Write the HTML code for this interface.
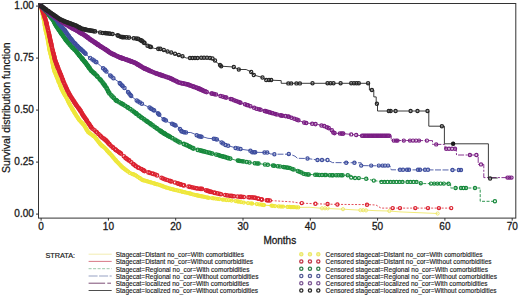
<!DOCTYPE html>
<html><head><meta charset="utf-8"><style>
html,body{margin:0;padding:0;background:#fff;width:520px;height:296px;overflow:hidden}
svg{display:block}
text{font-family:"Liberation Sans",sans-serif;fill:#1a1a1a}
.t{font-size:10px;stroke:#1a1a1a;stroke-width:0.3px}
.yl{font-size:10.5px;stroke:#1a1a1a;stroke-width:0.25px}
.st{font-size:7.3px;stroke:#1a1a1a;stroke-width:0.2px}
.lg{font-size:7.1px;stroke:#1a1a1a;stroke-width:0.14px}
.lgl{font-size:6.58px}
</style></head><body>
<svg width="520" height="296" viewBox="0 0 520 296">
<rect x="38.5" y="3.5" width="477.3" height="214.6" fill="none" stroke="#333" stroke-width="1"/>
<line x1="36" y1="6.1" x2="38.5" y2="6.1" stroke="#333" stroke-width="1"/>
<text x="33.8" y="9.4" text-anchor="end" class="t">1.00</text>
<line x1="36" y1="58.1" x2="38.5" y2="58.1" stroke="#333" stroke-width="1"/>
<text x="33.8" y="61.4" text-anchor="end" class="t">0.75</text>
<line x1="36" y1="110.1" x2="38.5" y2="110.1" stroke="#333" stroke-width="1"/>
<text x="33.8" y="113.4" text-anchor="end" class="t">0.50</text>
<line x1="36" y1="162.1" x2="38.5" y2="162.1" stroke="#333" stroke-width="1"/>
<text x="33.8" y="165.4" text-anchor="end" class="t">0.25</text>
<line x1="36" y1="214.1" x2="38.5" y2="214.1" stroke="#333" stroke-width="1"/>
<text x="33.8" y="217.4" text-anchor="end" class="t">0.00</text>
<line x1="41.10" y1="218" x2="41.10" y2="220.6" stroke="#333" stroke-width="1"/>
<text x="41.10" y="229.7" text-anchor="middle" class="t">0</text>
<line x1="108.40" y1="218" x2="108.40" y2="220.6" stroke="#333" stroke-width="1"/>
<text x="108.40" y="229.7" text-anchor="middle" class="t">10</text>
<line x1="175.70" y1="218" x2="175.70" y2="220.6" stroke="#333" stroke-width="1"/>
<text x="175.70" y="229.7" text-anchor="middle" class="t">20</text>
<line x1="243.00" y1="218" x2="243.00" y2="220.6" stroke="#333" stroke-width="1"/>
<text x="243.00" y="229.7" text-anchor="middle" class="t">30</text>
<line x1="310.30" y1="218" x2="310.30" y2="220.6" stroke="#333" stroke-width="1"/>
<text x="310.30" y="229.7" text-anchor="middle" class="t">40</text>
<line x1="377.60" y1="218" x2="377.60" y2="220.6" stroke="#333" stroke-width="1"/>
<text x="377.60" y="229.7" text-anchor="middle" class="t">50</text>
<line x1="444.90" y1="218" x2="444.90" y2="220.6" stroke="#333" stroke-width="1"/>
<text x="444.90" y="229.7" text-anchor="middle" class="t">60</text>
<line x1="512.20" y1="218" x2="512.20" y2="220.6" stroke="#333" stroke-width="1"/>
<text x="512.20" y="229.7" text-anchor="middle" class="t">70</text>
<text x="279.8" y="244.2" text-anchor="middle" class="t">Months</text>
<text transform="translate(10.1,107.7) rotate(-90)" text-anchor="middle" class="yl">Survival distribution function</text>
<polyline points="299.0,207.4 310.0,207.3 322.0,208.3 343.0,209.2 360.4,210.2 366.5,210.2 376.0,210.7 389.0,211.0 400.0,211.9 437.6,213.5" fill="none" stroke="#eee86a" stroke-width="0.9"/>
<g fill="none" stroke="#eee73c" stroke-width="1.3"><circle cx="41.0" cy="6.0" r="1.5"/><circle cx="41.2" cy="7.0" r="1.5"/><circle cx="41.5" cy="8.2" r="1.5"/><circle cx="41.8" cy="9.7" r="1.5"/><circle cx="41.9" cy="10.4" r="1.5"/><circle cx="42.2" cy="11.6" r="1.5"/><circle cx="42.4" cy="12.9" r="1.5"/><circle cx="42.7" cy="14.1" r="1.5"/><circle cx="42.8" cy="14.6" r="1.5"/><circle cx="42.9" cy="15.1" r="1.5"/><circle cx="43.1" cy="16.1" r="1.5"/><circle cx="43.3" cy="17.3" r="1.5"/><circle cx="43.5" cy="18.0" r="1.5"/><circle cx="43.7" cy="19.0" r="1.5"/><circle cx="43.8" cy="19.8" r="1.5"/><circle cx="44.1" cy="21.2" r="1.5"/><circle cx="44.3" cy="22.8" r="1.5"/><circle cx="44.5" cy="23.8" r="1.5"/><circle cx="44.7" cy="25.2" r="1.5"/><circle cx="44.8" cy="25.8" r="1.5"/><circle cx="45.0" cy="27.0" r="1.5"/><circle cx="45.3" cy="28.5" r="1.5"/><circle cx="45.4" cy="29.2" r="1.5"/><circle cx="45.6" cy="30.5" r="1.5"/><circle cx="45.9" cy="31.5" r="1.5"/><circle cx="46.3" cy="33.0" r="1.5"/><circle cx="46.5" cy="33.8" r="1.5"/><circle cx="46.7" cy="34.8" r="1.5"/><circle cx="47.1" cy="36.2" r="1.5"/><circle cx="47.4" cy="37.5" r="1.5"/><circle cx="47.5" cy="38.2" r="1.5"/><circle cx="47.6" cy="38.8" r="1.5"/><circle cx="47.8" cy="40.2" r="1.5"/><circle cx="48.0" cy="41.2" r="1.5"/><circle cx="48.3" cy="42.8" r="1.5"/><circle cx="48.4" cy="43.5" r="1.5"/><circle cx="48.6" cy="44.8" r="1.5"/><circle cx="48.8" cy="46.0" r="1.5"/><circle cx="49.1" cy="47.5" r="1.5"/><circle cx="49.2" cy="48.0" r="1.5"/><circle cx="49.3" cy="49.0" r="1.5"/><circle cx="49.4" cy="49.5" r="1.5"/><circle cx="49.7" cy="50.8" r="1.5"/><circle cx="49.9" cy="51.5" r="1.5"/><circle cx="50.2" cy="53.0" r="1.5"/><circle cx="50.4" cy="53.8" r="1.5"/><circle cx="50.8" cy="55.0" r="1.5"/><circle cx="51.1" cy="56.5" r="1.5"/><circle cx="51.3" cy="57.2" r="1.5"/><circle cx="51.6" cy="58.2" r="1.5"/><circle cx="51.9" cy="59.7" r="1.5"/><circle cx="52.1" cy="60.7" r="1.5"/><circle cx="52.2" cy="61.4" r="1.5"/><circle cx="52.4" cy="62.2" r="1.5"/><circle cx="52.6" cy="63.4" r="1.5"/><circle cx="52.8" cy="64.1" r="1.5"/><circle cx="53.0" cy="65.3" r="1.5"/><circle cx="53.2" cy="66.3" r="1.5"/><circle cx="53.4" cy="67.3" r="1.5"/><circle cx="53.5" cy="67.8" r="1.5"/><circle cx="53.8" cy="69.0" r="1.5"/><circle cx="54.2" cy="70.5" r="1.5"/><circle cx="54.5" cy="71.2" r="1.5"/><circle cx="54.7" cy="71.9" r="1.5"/><circle cx="55.3" cy="73.3" r="1.5"/><circle cx="55.7" cy="74.2" r="1.5"/><circle cx="56.0" cy="74.9" r="1.5"/><circle cx="56.1" cy="75.3" r="1.5"/><circle cx="56.6" cy="76.5" r="1.5"/><circle cx="56.9" cy="77.2" r="1.5"/><circle cx="57.3" cy="78.1" r="1.5"/><circle cx="57.5" cy="78.8" r="1.5"/><circle cx="58.0" cy="80.0" r="1.5"/><circle cx="58.5" cy="81.2" r="1.5"/><circle cx="58.7" cy="81.9" r="1.5"/><circle cx="58.9" cy="82.3" r="1.5"/><circle cx="59.5" cy="83.7" r="1.5"/><circle cx="60.0" cy="85.1" r="1.5"/><circle cx="60.2" cy="85.6" r="1.5"/><circle cx="60.6" cy="86.5" r="1.5"/><circle cx="61.1" cy="87.7" r="1.5"/><circle cx="61.4" cy="88.6" r="1.5"/><circle cx="61.9" cy="89.8" r="1.5"/><circle cx="62.6" cy="91.1" r="1.5"/><circle cx="63.1" cy="92.0" r="1.5"/><circle cx="63.6" cy="92.8" r="1.5"/><circle cx="64.0" cy="93.5" r="1.5"/><circle cx="64.4" cy="94.2" r="1.5"/><circle cx="64.8" cy="94.8" r="1.5"/><circle cx="65.0" cy="95.2" r="1.5"/><circle cx="65.4" cy="95.9" r="1.5"/><circle cx="66.1" cy="97.2" r="1.5"/><circle cx="66.6" cy="98.1" r="1.5"/><circle cx="67.1" cy="99.3" r="1.5"/><circle cx="67.8" cy="100.7" r="1.5"/><circle cx="68.4" cy="101.8" r="1.5"/><circle cx="68.6" cy="102.3" r="1.5"/><circle cx="69.3" cy="103.6" r="1.5"/><circle cx="69.5" cy="104.1" r="1.5"/><circle cx="70.1" cy="105.2" r="1.5"/><circle cx="70.9" cy="106.5" r="1.5"/><circle cx="71.5" cy="107.6" r="1.5"/><circle cx="72.1" cy="108.5" r="1.5"/><circle cx="72.3" cy="108.9" r="1.5"/><circle cx="72.6" cy="109.4" r="1.5"/><circle cx="73.2" cy="110.4" r="1.5"/><circle cx="73.6" cy="111.1" r="1.5"/><circle cx="74.1" cy="112.0" r="1.5"/><circle cx="74.5" cy="112.6" r="1.5"/><circle cx="74.9" cy="113.3" r="1.5"/><circle cx="75.3" cy="113.9" r="1.5"/><circle cx="76.0" cy="115.0" r="1.5"/><circle cx="76.5" cy="115.9" r="1.5"/><circle cx="77.1" cy="116.8" r="1.5"/><circle cx="77.7" cy="117.6" r="1.5"/><circle cx="78.2" cy="118.5" r="1.5"/><circle cx="78.8" cy="119.3" r="1.5"/><circle cx="79.4" cy="120.2" r="1.5"/><circle cx="80.4" cy="121.3" r="1.5"/><circle cx="81.3" cy="122.2" r="1.5"/><circle cx="81.9" cy="122.8" r="1.5"/><circle cx="82.4" cy="123.3" r="1.5"/><circle cx="82.9" cy="123.9" r="1.5"/><circle cx="83.5" cy="124.4" r="1.5"/><circle cx="83.8" cy="124.8" r="1.5"/><circle cx="84.5" cy="125.9" r="1.5"/><circle cx="85.0" cy="126.8" r="1.5"/><circle cx="85.5" cy="127.6" r="1.5"/><circle cx="86.2" cy="128.9" r="1.5"/><circle cx="86.6" cy="129.6" r="1.5"/><circle cx="87.1" cy="130.5" r="1.5"/><circle cx="87.9" cy="131.8" r="1.5"/><circle cx="88.6" cy="132.4" r="1.5"/><circle cx="89.6" cy="133.2" r="1.5"/><circle cx="90.3" cy="133.7" r="1.5"/><circle cx="91.5" cy="134.6" r="1.5"/><circle cx="92.5" cy="135.3" r="1.5"/><circle cx="93.1" cy="135.8" r="1.5"/><circle cx="93.8" cy="136.2" r="1.5"/><circle cx="94.6" cy="136.8" r="1.5"/><circle cx="95.3" cy="137.5" r="1.5"/><circle cx="95.9" cy="138.3" r="1.5"/><circle cx="96.3" cy="138.9" r="1.5"/><circle cx="97.0" cy="139.8" r="1.5"/><circle cx="97.7" cy="140.8" r="1.5"/><circle cx="98.5" cy="141.8" r="1.5"/><circle cx="99.1" cy="142.6" r="1.5"/><circle cx="99.8" cy="143.4" r="1.5"/><circle cx="100.4" cy="144.2" r="1.5"/><circle cx="101.1" cy="145.0" r="1.5"/><circle cx="101.9" cy="145.7" r="1.5"/><circle cx="102.3" cy="146.0" r="1.5"/><circle cx="102.9" cy="146.5" r="1.5"/><circle cx="104.2" cy="147.4" r="1.5"/><circle cx="105.2" cy="148.3" r="1.5"/><circle cx="105.8" cy="149.1" r="1.5"/><circle cx="106.7" cy="150.1" r="1.5"/><circle cx="107.2" cy="150.7" r="1.5"/><circle cx="107.7" cy="151.3" r="1.5"/><circle cx="108.4" cy="152.1" r="1.5"/><circle cx="109.3" cy="153.0" r="1.5"/><circle cx="109.6" cy="153.3" r="1.5"/><circle cx="110.3" cy="154.1" r="1.5"/><circle cx="111.4" cy="155.2" r="1.5"/><circle cx="112.2" cy="156.2" r="1.5"/><circle cx="113.2" cy="157.3" r="1.5"/><circle cx="113.5" cy="157.7" r="1.5"/><circle cx="114.5" cy="158.9" r="1.5"/><circle cx="115.4" cy="160.0" r="1.5"/><circle cx="115.8" cy="160.4" r="1.5"/><circle cx="116.4" cy="161.2" r="1.5"/><circle cx="117.3" cy="162.1" r="1.5"/><circle cx="117.8" cy="162.6" r="1.5"/><circle cx="118.7" cy="163.5" r="1.5"/><circle cx="119.7" cy="164.6" r="1.5"/><circle cx="120.6" cy="165.5" r="1.5"/><circle cx="121.5" cy="166.4" r="1.5"/><circle cx="122.0" cy="167.0" r="1.5"/><circle cx="123.1" cy="167.9" r="1.5"/><circle cx="123.9" cy="168.5" r="1.5"/><circle cx="125.1" cy="169.4" r="1.5"/><circle cx="125.9" cy="170.0" r="1.5"/><circle cx="127.0" cy="170.8" r="1.5"/><circle cx="128.2" cy="171.7" r="1.5"/><circle cx="129.8" cy="172.9" r="1.5"/><circle cx="131.9" cy="173.8" r="1.5"/><circle cx="133.0" cy="174.2" r="1.5"/><circle cx="133.7" cy="174.5" r="1.5"/><circle cx="135.3" cy="175.2" r="1.5"/><circle cx="136.4" cy="175.9" r="1.5"/><circle cx="137.8" cy="176.9" r="1.5"/><circle cx="139.5" cy="178.0" r="1.5"/><circle cx="140.2" cy="178.4" r="1.5"/><circle cx="141.6" cy="179.4" r="1.5"/><circle cx="142.5" cy="180.0" r="1.5"/><circle cx="143.7" cy="180.4" r="1.5"/><circle cx="144.9" cy="180.7" r="1.5"/><circle cx="146.4" cy="181.1" r="1.5"/><circle cx="147.4" cy="181.4" r="1.5"/><circle cx="148.8" cy="181.8" r="1.5"/><circle cx="149.8" cy="182.1" r="1.5"/><circle cx="150.5" cy="182.3" r="1.5"/><circle cx="151.5" cy="182.6" r="1.5"/><circle cx="153.3" cy="183.1" r="1.5"/><circle cx="154.3" cy="183.5" r="1.5"/><circle cx="155.3" cy="183.8" r="1.5"/><circle cx="156.5" cy="184.2" r="1.5"/><circle cx="157.5" cy="184.4" r="1.5"/><circle cx="159.5" cy="185.0" r="1.5"/><circle cx="161.2" cy="185.6" r="1.5"/><circle cx="162.1" cy="186.0" r="1.5"/><circle cx="163.0" cy="186.3" r="1.5"/><circle cx="164.2" cy="186.8" r="1.5"/><circle cx="165.6" cy="187.3" r="1.5"/><circle cx="166.8" cy="187.7" r="1.5"/><circle cx="168.2" cy="188.2" r="1.5"/><circle cx="170.0" cy="188.6" r="1.5"/><circle cx="170.8" cy="188.8" r="1.5"/><circle cx="172.2" cy="189.2" r="1.5"/><circle cx="173.2" cy="189.5" r="1.5"/><circle cx="174.8" cy="189.8" r="1.5"/><circle cx="175.8" cy="190.1" r="1.5"/><circle cx="177.5" cy="190.5" r="1.5"/><circle cx="179.5" cy="191.0" r="1.5"/><circle cx="181.5" cy="191.5" r="1.5"/><circle cx="182.8" cy="191.9" r="1.5"/><circle cx="184.2" cy="192.2" r="1.5"/><circle cx="185.2" cy="192.4" r="1.5"/><circle cx="187.0" cy="192.8" r="1.5"/><circle cx="188.8" cy="193.2" r="1.5"/><circle cx="190.0" cy="193.5" r="1.5"/><circle cx="191.0" cy="193.8" r="1.5"/><circle cx="192.8" cy="194.3" r="1.5"/><circle cx="194.5" cy="194.8" r="1.5"/><circle cx="196.2" cy="195.2" r="1.5"/><circle cx="197.2" cy="195.4" r="1.5"/><circle cx="198.2" cy="195.7" r="1.5"/><circle cx="199.2" cy="195.8" r="1.5"/><circle cx="200.2" cy="196.1" r="1.5"/><circle cx="201.0" cy="196.2" r="1.5"/><circle cx="201.8" cy="196.3" r="1.5"/><circle cx="203.2" cy="196.7" r="1.5"/><circle cx="204.5" cy="196.9" r="1.5"/><circle cx="206.5" cy="197.3" r="1.5"/><circle cx="207.8" cy="197.6" r="1.5"/><circle cx="208.8" cy="197.8" r="1.5"/></g>
<polyline points="202.5,196.5 210.0,198.0 217.5,198.8 225.0,199.9 232.5,200.6 243.8,202.5 253.8,203.8 263.8,205.0 280.0,206.5 299.0,207.4" fill="none" stroke="#eee73c" stroke-width="1.0"/>
<g fill="none" stroke="#eee73c" stroke-width="1.25"><circle cx="212.2" cy="198.2" r="1.5"/><circle cx="213.5" cy="198.3" r="1.5"/><circle cx="215.5" cy="198.6" r="1.5"/><circle cx="217.5" cy="198.8" r="1.5"/><circle cx="219.2" cy="199.0" r="1.5"/><circle cx="222.5" cy="199.5" r="1.5"/><circle cx="224.0" cy="199.7" r="1.5"/><circle cx="226.2" cy="200.0" r="1.5"/><circle cx="228.8" cy="200.2" r="1.5"/><circle cx="231.5" cy="200.5" r="1.5"/><circle cx="235.5" cy="201.1" r="1.5"/><circle cx="237.5" cy="201.4" r="1.5"/><circle cx="238.8" cy="201.7" r="1.5"/><circle cx="241.0" cy="202.0" r="1.5"/><circle cx="243.8" cy="202.5" r="1.5"/><circle cx="248.0" cy="203.0" r="1.5"/><circle cx="251.0" cy="203.4" r="1.5"/><circle cx="252.2" cy="203.6" r="1.5"/><circle cx="256.8" cy="204.1" r="1.5"/><circle cx="259.2" cy="204.4" r="1.5"/><circle cx="261.5" cy="204.7" r="1.5"/><circle cx="263.0" cy="204.9" r="1.5"/><circle cx="264.0" cy="205.0" r="1.5"/><circle cx="271.5" cy="205.7" r="1.5"/><circle cx="272.8" cy="205.8" r="1.5"/><circle cx="275.0" cy="206.0" r="1.5"/><circle cx="278.8" cy="206.4" r="1.5"/><circle cx="281.0" cy="206.5" r="1.5"/><circle cx="283.0" cy="206.6" r="1.5"/><circle cx="287.5" cy="206.9" r="1.5"/><circle cx="289.5" cy="206.9" r="1.5"/><circle cx="290.5" cy="207.0" r="1.5"/><circle cx="291.8" cy="207.1" r="1.5"/><circle cx="293.0" cy="207.1" r="1.5"/><circle cx="294.0" cy="207.2" r="1.5"/><circle cx="296.2" cy="207.3" r="1.5"/><circle cx="298.2" cy="207.4" r="1.5"/></g>
<g fill="none" stroke="#eee86a" stroke-width="1.0"><circle cx="322.0" cy="208.3" r="1.6"/><circle cx="325.0" cy="208.3" r="1.6"/><circle cx="327.7" cy="208.3" r="1.6"/><circle cx="343.0" cy="209.2" r="1.6"/><circle cx="360.4" cy="210.2" r="1.6"/><circle cx="363.2" cy="210.2" r="1.6"/><circle cx="366.0" cy="210.4" r="1.6"/><circle cx="389.4" cy="211.0" r="1.6"/><circle cx="437.6" cy="213.5" r="1.6"/></g>
<polyline points="271.2,200.6 292.5,201.9 298.8,203.0 315.6,203.8 337.5,204.4 367.0,204.6 376.0,205.0 381.0,208.1 451.2,208.1" fill="none" stroke="#dc2230" stroke-width="0.8" stroke-dasharray="2,1.5"/>
<g fill="none" stroke="#dc2230" stroke-width="1.25"><circle cx="41.0" cy="6.0" r="1.7"/><circle cx="41.2" cy="6.7" r="1.7"/><circle cx="41.6" cy="7.9" r="1.7"/><circle cx="42.0" cy="9.1" r="1.7"/><circle cx="42.5" cy="10.6" r="1.7"/><circle cx="42.8" cy="11.3" r="1.7"/><circle cx="43.0" cy="12.0" r="1.7"/><circle cx="43.2" cy="12.7" r="1.7"/><circle cx="43.5" cy="13.5" r="1.7"/><circle cx="43.9" cy="14.9" r="1.7"/><circle cx="44.2" cy="15.6" r="1.7"/><circle cx="44.6" cy="16.8" r="1.7"/><circle cx="44.8" cy="17.6" r="1.7"/><circle cx="45.0" cy="18.3" r="1.7"/><circle cx="45.4" cy="19.3" r="1.7"/><circle cx="45.8" cy="20.7" r="1.7"/><circle cx="46.1" cy="22.0" r="1.7"/><circle cx="46.2" cy="22.4" r="1.7"/><circle cx="46.4" cy="23.2" r="1.7"/><circle cx="46.6" cy="23.9" r="1.7"/><circle cx="46.9" cy="25.4" r="1.7"/><circle cx="47.3" cy="26.8" r="1.7"/><circle cx="47.7" cy="28.3" r="1.7"/><circle cx="48.0" cy="29.8" r="1.7"/><circle cx="48.4" cy="31.2" r="1.7"/><circle cx="48.8" cy="33.0" r="1.7"/><circle cx="49.1" cy="34.4" r="1.7"/><circle cx="49.3" cy="35.2" r="1.7"/><circle cx="49.6" cy="36.7" r="1.7"/><circle cx="49.8" cy="37.6" r="1.7"/><circle cx="50.1" cy="39.1" r="1.7"/><circle cx="50.4" cy="40.4" r="1.7"/><circle cx="50.6" cy="41.4" r="1.7"/><circle cx="50.8" cy="42.3" r="1.7"/><circle cx="51.1" cy="43.3" r="1.7"/><circle cx="51.3" cy="44.3" r="1.7"/><circle cx="51.4" cy="45.1" r="1.7"/><circle cx="51.8" cy="46.5" r="1.7"/><circle cx="52.1" cy="48.0" r="1.7"/><circle cx="52.5" cy="49.7" r="1.7"/><circle cx="52.8" cy="50.9" r="1.7"/><circle cx="53.1" cy="52.2" r="1.7"/><circle cx="53.5" cy="53.6" r="1.7"/><circle cx="53.7" cy="54.4" r="1.7"/><circle cx="54.0" cy="55.6" r="1.7"/><circle cx="54.2" cy="56.6" r="1.7"/><circle cx="54.4" cy="57.3" r="1.7"/><circle cx="54.5" cy="58.0" r="1.7"/><circle cx="54.8" cy="59.3" r="1.7"/><circle cx="55.0" cy="60.0" r="1.7"/><circle cx="55.4" cy="60.9" r="1.7"/><circle cx="55.8" cy="62.1" r="1.7"/><circle cx="56.1" cy="63.0" r="1.7"/><circle cx="56.4" cy="63.8" r="1.7"/><circle cx="56.8" cy="64.7" r="1.7"/><circle cx="57.0" cy="65.4" r="1.7"/><circle cx="57.3" cy="66.1" r="1.7"/><circle cx="57.5" cy="66.8" r="1.7"/><circle cx="57.9" cy="67.7" r="1.7"/><circle cx="58.1" cy="68.2" r="1.7"/><circle cx="58.6" cy="69.4" r="1.7"/><circle cx="59.3" cy="71.0" r="1.7"/><circle cx="59.6" cy="72.0" r="1.7"/><circle cx="60.1" cy="73.1" r="1.7"/><circle cx="60.7" cy="74.5" r="1.7"/><circle cx="60.9" cy="75.0" r="1.7"/><circle cx="61.2" cy="75.7" r="1.7"/><circle cx="61.7" cy="77.1" r="1.7"/><circle cx="62.3" cy="78.5" r="1.7"/><circle cx="62.7" cy="79.7" r="1.7"/><circle cx="63.0" cy="80.4" r="1.7"/><circle cx="63.3" cy="81.3" r="1.7"/><circle cx="63.9" cy="82.7" r="1.7"/><circle cx="64.5" cy="84.1" r="1.7"/><circle cx="65.2" cy="85.5" r="1.7"/><circle cx="65.5" cy="86.2" r="1.7"/><circle cx="66.1" cy="87.7" r="1.7"/><circle cx="66.6" cy="88.6" r="1.7"/><circle cx="67.1" cy="89.8" r="1.7"/><circle cx="67.4" cy="90.5" r="1.7"/><circle cx="68.3" cy="92.0" r="1.7"/><circle cx="68.9" cy="93.2" r="1.7"/><circle cx="69.4" cy="94.3" r="1.7"/><circle cx="69.8" cy="95.0" r="1.7"/><circle cx="70.5" cy="96.1" r="1.7"/><circle cx="71.2" cy="97.2" r="1.7"/><circle cx="71.9" cy="98.3" r="1.7"/><circle cx="72.4" cy="99.1" r="1.7"/><circle cx="73.1" cy="100.2" r="1.7"/><circle cx="73.7" cy="101.1" r="1.7"/><circle cx="74.1" cy="101.7" r="1.7"/><circle cx="74.5" cy="102.4" r="1.7"/><circle cx="75.2" cy="103.5" r="1.7"/><circle cx="75.6" cy="104.1" r="1.7"/><circle cx="76.1" cy="104.8" r="1.7"/><circle cx="76.4" cy="105.2" r="1.7"/><circle cx="77.1" cy="106.2" r="1.7"/><circle cx="77.9" cy="107.2" r="1.7"/><circle cx="78.6" cy="108.2" r="1.7"/><circle cx="78.9" cy="108.6" r="1.7"/><circle cx="79.5" cy="109.4" r="1.7"/><circle cx="80.1" cy="110.2" r="1.7"/><circle cx="80.4" cy="110.7" r="1.7"/><circle cx="80.6" cy="111.1" r="1.7"/><circle cx="81.6" cy="112.7" r="1.7"/><circle cx="81.9" cy="113.3" r="1.7"/><circle cx="82.3" cy="114.0" r="1.7"/><circle cx="82.7" cy="114.7" r="1.7"/><circle cx="83.4" cy="115.8" r="1.7"/><circle cx="83.7" cy="116.2" r="1.7"/><circle cx="84.3" cy="117.1" r="1.7"/><circle cx="84.9" cy="117.9" r="1.7"/><circle cx="85.8" cy="119.2" r="1.7"/><circle cx="86.1" cy="119.6" r="1.7"/><circle cx="86.7" cy="120.4" r="1.7"/><circle cx="87.2" cy="121.3" r="1.7"/><circle cx="88.2" cy="122.7" r="1.7"/><circle cx="88.9" cy="123.8" r="1.7"/><circle cx="89.5" cy="124.6" r="1.7"/><circle cx="90.2" cy="125.7" r="1.7"/><circle cx="90.9" cy="126.7" r="1.7"/><circle cx="91.3" cy="127.4" r="1.7"/><circle cx="92.5" cy="128.7" r="1.7"/><circle cx="94.5" cy="130.3" r="1.7"/><circle cx="96.1" cy="131.7" r="1.7"/><circle cx="97.0" cy="132.5" r="1.7"/><circle cx="98.5" cy="134.0" r="1.7"/><circle cx="100.1" cy="135.6" r="1.7"/><circle cx="101.1" cy="136.6" r="1.7"/><circle cx="102.4" cy="137.7" r="1.7"/><circle cx="103.7" cy="138.6" r="1.7"/><circle cx="104.7" cy="139.4" r="1.7"/><circle cx="105.8" cy="140.2" r="1.7"/><circle cx="106.5" cy="140.9" r="1.7"/><circle cx="107.5" cy="142.1" r="1.7"/><circle cx="108.0" cy="142.7" r="1.7"/><circle cx="109.0" cy="143.8" r="1.7"/><circle cx="109.7" cy="144.6" r="1.7"/><circle cx="111.4" cy="146.2" r="1.7"/><circle cx="112.8" cy="147.3" r="1.7"/><circle cx="113.3" cy="147.8" r="1.7"/><circle cx="115.1" cy="149.3" r="1.7"/><circle cx="115.9" cy="149.9" r="1.7"/><circle cx="117.3" cy="151.0" r="1.7"/><circle cx="118.8" cy="152.1" r="1.7"/><circle cx="119.9" cy="152.8" r="1.7"/><circle cx="121.0" cy="153.6" r="1.7"/><circle cx="123.8" cy="156.2" r="1.7"/><circle cx="125.4" cy="157.8" r="1.7"/><circle cx="126.4" cy="158.6" r="1.7"/><circle cx="127.4" cy="159.3" r="1.7"/><circle cx="128.7" cy="160.2" r="1.7"/><circle cx="129.3" cy="160.6" r="1.7"/><circle cx="131.3" cy="162.2" r="1.7"/><circle cx="133.2" cy="164.0" r="1.7"/><circle cx="133.8" cy="164.5" r="1.7"/><circle cx="135.2" cy="165.6" r="1.7"/><circle cx="136.0" cy="166.2" r="1.7"/><circle cx="137.9" cy="167.4" r="1.7"/><circle cx="139.1" cy="168.0" r="1.7"/><circle cx="141.4" cy="169.1" r="1.7"/><circle cx="143.0" cy="170.1" r="1.7"/><circle cx="143.9" cy="170.6" r="1.7"/><circle cx="144.5" cy="171.1" r="1.7"/><circle cx="148.4" cy="172.4" r="1.7"/><circle cx="149.8" cy="172.8" r="1.7"/><circle cx="152.0" cy="173.5" r="1.7"/><circle cx="153.3" cy="173.9" r="1.7"/><circle cx="155.3" cy="174.5" r="1.7"/><circle cx="157.1" cy="175.4" r="1.7"/><circle cx="161.5" cy="177.7" r="1.7"/><circle cx="163.1" cy="178.6" r="1.7"/><circle cx="165.0" cy="179.3" r="1.7"/><circle cx="167.1" cy="180.0" r="1.7"/><circle cx="169.5" cy="180.8" r="1.7"/><circle cx="170.5" cy="181.1" r="1.7"/><circle cx="171.5" cy="181.5" r="1.7"/><circle cx="175.0" cy="182.5" r="1.7"/><circle cx="177.4" cy="183.3" r="1.7"/><circle cx="178.6" cy="183.7" r="1.7"/><circle cx="179.6" cy="184.0" r="1.7"/><circle cx="180.3" cy="184.3" r="1.7"/><circle cx="181.0" cy="184.5" r="1.7"/><circle cx="183.0" cy="185.1" r="1.7"/><circle cx="184.0" cy="185.4" r="1.7"/><circle cx="188.5" cy="186.5" r="1.7"/><circle cx="190.0" cy="186.9" r="1.7"/><circle cx="192.0" cy="187.3" r="1.7"/><circle cx="194.2" cy="187.8" r="1.7"/><circle cx="196.2" cy="188.2" r="1.7"/><circle cx="197.5" cy="188.5" r="1.7"/><circle cx="199.8" cy="188.7" r="1.7"/><circle cx="200.8" cy="188.8" r="1.7"/><circle cx="202.0" cy="188.9" r="1.7"/><circle cx="205.9" cy="190.2" r="1.7"/><circle cx="207.3" cy="190.7" r="1.7"/><circle cx="208.1" cy="190.9" r="1.7"/><circle cx="208.8" cy="191.2" r="1.7"/><circle cx="210.0" cy="191.6" r="1.7"/><circle cx="211.2" cy="191.9" r="1.7"/><circle cx="213.8" cy="192.6" r="1.7"/><circle cx="215.0" cy="192.9" r="1.7"/><circle cx="217.2" cy="193.4" r="1.7"/><circle cx="219.5" cy="193.9" r="1.7"/><circle cx="221.0" cy="194.2" r="1.7"/><circle cx="225.2" cy="195.0" r="1.7"/><circle cx="227.0" cy="195.3" r="1.7"/><circle cx="229.5" cy="195.7" r="1.7"/><circle cx="231.2" cy="195.9" r="1.7"/><circle cx="232.5" cy="196.1" r="1.7"/><circle cx="234.0" cy="196.2" r="1.7"/><circle cx="237.5" cy="196.5" r="1.7"/><circle cx="239.8" cy="196.7" r="1.7"/><circle cx="240.8" cy="196.8" r="1.7"/><circle cx="241.8" cy="196.8" r="1.7"/><circle cx="243.8" cy="197.0" r="1.7"/><circle cx="248.5" cy="197.2" r="1.7"/><circle cx="249.8" cy="197.3" r="1.7"/><circle cx="252.0" cy="197.4" r="1.7"/><circle cx="254.0" cy="197.6" r="1.7"/><circle cx="255.5" cy="197.9" r="1.7"/><circle cx="257.9" cy="198.5" r="1.7"/><circle cx="258.6" cy="198.7" r="1.7"/><circle cx="261.1" cy="199.3" r="1.7"/><circle cx="262.0" cy="199.6" r="1.7"/><circle cx="266.8" cy="200.2" r="1.7"/><circle cx="268.0" cy="200.3" r="1.7"/><circle cx="269.8" cy="200.5" r="1.7"/></g>
<g fill="none" stroke="#dc2230" stroke-width="1.2"><circle cx="301.8" cy="203.1" r="1.6"/><circle cx="315.4" cy="203.8" r="1.6"/><circle cx="327.6" cy="204.0" r="1.6"/><circle cx="337.4" cy="204.5" r="1.6"/><circle cx="367.0" cy="204.7" r="1.6"/><circle cx="392.7" cy="208.1" r="1.6"/><circle cx="400.0" cy="208.1" r="1.6"/><circle cx="415.3" cy="208.1" r="1.6"/><circle cx="428.0" cy="208.1" r="1.6"/><circle cx="438.9" cy="208.1" r="1.6"/><circle cx="451.2" cy="208.1" r="1.6"/></g>
<polyline points="41.0,6.0 47.0,12.0 53.0,20.0 57.0,27.0 61.0,33.0 66.0,40.0 71.0,46.0 76.0,51.0 78.8,54.5 81.0,57.3 85.5,62.8 91.5,71.0 95.0,74.0 101.0,80.5 106.2,87.5 109.0,93.0 116.2,100.5 125.2,105.8 133.5,111.4 140.0,116.5 150.0,123.5 162.5,132.5 177.5,141.2 180.0,142.5 187.5,145.5 195.0,149.2 202.5,151.1 211.5,153.4 219.0,155.2 220.0,155.7 235.0,160.0 248.8,162.5 260.0,163.8 270.0,165.0 277.5,166.2 290.0,168.1 297.5,170.8 305.0,174.3 312.5,174.6 327.5,175.2 350.0,175.2" fill="none" stroke="#17893c" stroke-width="0.9"/>
<polyline points="350.0,175.2 351.2,175.2 351.2,177.5 358.8,178.1 366.2,178.8 373.8,180.6 385.0,181.9 418.0,181.9 420.0,183.6 450.6,183.6 450.6,188.0 480.2,188.0 480.2,201.3 494.9,201.3" fill="none" stroke="#17893c" stroke-width="0.9" stroke-dasharray="3,1.5"/>
<g fill="none" stroke="#17893c" stroke-width="1.3"><circle cx="41.0" cy="6.0" r="1.75"/><circle cx="41.7" cy="6.7" r="1.75"/><circle cx="42.5" cy="7.5" r="1.75"/><circle cx="43.5" cy="8.5" r="1.75"/><circle cx="44.3" cy="9.3" r="1.75"/><circle cx="45.0" cy="10.0" r="1.75"/><circle cx="45.7" cy="10.7" r="1.75"/><circle cx="46.3" cy="11.3" r="1.75"/><circle cx="47.0" cy="12.0" r="1.75"/><circle cx="47.8" cy="13.0" r="1.75"/><circle cx="48.5" cy="14.0" r="1.75"/><circle cx="48.8" cy="14.4" r="1.75"/><circle cx="49.2" cy="15.0" r="1.75"/><circle cx="49.5" cy="15.4" r="1.75"/><circle cx="50.3" cy="16.4" r="1.75"/><circle cx="51.0" cy="17.4" r="1.75"/><circle cx="51.4" cy="17.8" r="1.75"/><circle cx="52.2" cy="19.0" r="1.75"/><circle cx="53.1" cy="20.2" r="1.75"/><circle cx="53.8" cy="21.3" r="1.75"/><circle cx="54.4" cy="22.4" r="1.75"/><circle cx="54.8" cy="23.1" r="1.75"/><circle cx="55.0" cy="23.5" r="1.75"/><circle cx="55.5" cy="24.4" r="1.75"/><circle cx="55.8" cy="24.8" r="1.75"/><circle cx="56.1" cy="25.5" r="1.75"/><circle cx="56.5" cy="26.1" r="1.75"/><circle cx="56.8" cy="26.6" r="1.75"/><circle cx="57.3" cy="27.4" r="1.75"/><circle cx="57.9" cy="28.3" r="1.75"/><circle cx="58.6" cy="29.4" r="1.75"/><circle cx="59.1" cy="30.2" r="1.75"/><circle cx="59.9" cy="31.3" r="1.75"/><circle cx="60.4" cy="32.1" r="1.75"/><circle cx="61.1" cy="33.2" r="1.75"/><circle cx="61.7" cy="34.0" r="1.75"/><circle cx="62.2" cy="34.6" r="1.75"/><circle cx="63.1" cy="35.9" r="1.75"/><circle cx="63.9" cy="37.1" r="1.75"/><circle cx="64.8" cy="38.4" r="1.75"/><circle cx="65.6" cy="39.4" r="1.75"/><circle cx="66.0" cy="40.0" r="1.75"/><circle cx="66.5" cy="40.6" r="1.75"/><circle cx="67.0" cy="41.2" r="1.75"/><circle cx="67.3" cy="41.5" r="1.75"/><circle cx="68.1" cy="42.5" r="1.75"/><circle cx="68.7" cy="43.3" r="1.75"/><circle cx="69.7" cy="44.5" r="1.75"/><circle cx="70.4" cy="45.2" r="1.75"/><circle cx="71.4" cy="46.4" r="1.75"/><circle cx="72.4" cy="47.4" r="1.75"/><circle cx="72.8" cy="47.8" r="1.75"/><circle cx="73.3" cy="48.3" r="1.75"/><circle cx="74.4" cy="49.4" r="1.75"/><circle cx="75.1" cy="50.1" r="1.75"/><circle cx="76.2" cy="51.2" r="1.75"/><circle cx="76.8" cy="52.0" r="1.75"/><circle cx="77.1" cy="52.4" r="1.75"/><circle cx="77.8" cy="53.3" r="1.75"/><circle cx="78.6" cy="54.3" r="1.75"/><circle cx="79.1" cy="54.9" r="1.75"/><circle cx="79.4" cy="55.3" r="1.75"/><circle cx="79.9" cy="55.9" r="1.75"/><circle cx="80.8" cy="57.1" r="1.75"/><circle cx="81.6" cy="58.1" r="1.75"/><circle cx="82.0" cy="58.5" r="1.75"/><circle cx="82.4" cy="59.1" r="1.75"/><circle cx="82.8" cy="59.4" r="1.75"/><circle cx="83.1" cy="59.8" r="1.75"/><circle cx="83.9" cy="60.8" r="1.75"/><circle cx="84.4" cy="61.4" r="1.75"/><circle cx="85.0" cy="62.2" r="1.75"/><circle cx="85.7" cy="63.0" r="1.75"/><circle cx="86.1" cy="63.6" r="1.75"/><circle cx="86.8" cy="64.6" r="1.75"/><circle cx="87.2" cy="65.0" r="1.75"/><circle cx="87.9" cy="66.0" r="1.75"/><circle cx="88.2" cy="66.5" r="1.75"/><circle cx="88.8" cy="67.3" r="1.75"/><circle cx="89.2" cy="67.9" r="1.75"/><circle cx="89.7" cy="68.5" r="1.75"/><circle cx="90.6" cy="69.8" r="1.75"/><circle cx="91.3" cy="70.8" r="1.75"/><circle cx="91.9" cy="71.3" r="1.75"/><circle cx="93.1" cy="72.3" r="1.75"/><circle cx="93.6" cy="72.8" r="1.75"/><circle cx="94.4" cy="73.5" r="1.75"/><circle cx="95.5" cy="74.6" r="1.75"/><circle cx="96.9" cy="76.0" r="1.75"/><circle cx="97.6" cy="76.8" r="1.75"/><circle cx="99.5" cy="78.8" r="1.75"/><circle cx="100.3" cy="79.8" r="1.75"/><circle cx="101.2" cy="80.7" r="1.75"/><circle cx="102.5" cy="82.5" r="1.75"/><circle cx="103.4" cy="83.7" r="1.75"/><circle cx="104.2" cy="84.7" r="1.75"/><circle cx="104.8" cy="85.5" r="1.75"/><circle cx="105.3" cy="86.3" r="1.75"/><circle cx="106.5" cy="88.0" r="1.75"/><circle cx="107.1" cy="89.1" r="1.75"/><circle cx="108.0" cy="90.9" r="1.75"/><circle cx="108.7" cy="92.3" r="1.75"/><circle cx="109.5" cy="93.5" r="1.75"/><circle cx="111.3" cy="95.4" r="1.75"/><circle cx="112.5" cy="96.7" r="1.75"/><circle cx="113.8" cy="97.9" r="1.75"/><circle cx="115.5" cy="99.8" r="1.75"/><circle cx="116.2" cy="100.5" r="1.75"/><circle cx="117.1" cy="101.0" r="1.75"/><circle cx="119.3" cy="102.3" r="1.75"/><circle cx="121.3" cy="103.4" r="1.75"/><circle cx="122.4" cy="104.1" r="1.75"/><circle cx="123.3" cy="104.6" r="1.75"/><circle cx="125.2" cy="105.8" r="1.75"/><circle cx="127.4" cy="107.2" r="1.75"/><circle cx="128.2" cy="107.8" r="1.75"/><circle cx="130.3" cy="109.2" r="1.75"/><circle cx="132.4" cy="110.7" r="1.75"/><circle cx="134.1" cy="111.9" r="1.75"/><circle cx="135.3" cy="112.8" r="1.75"/><circle cx="136.1" cy="113.4" r="1.75"/><circle cx="136.7" cy="113.9" r="1.75"/><circle cx="138.6" cy="115.4" r="1.75"/><circle cx="139.6" cy="116.2" r="1.75"/><circle cx="141.2" cy="117.4" r="1.75"/><circle cx="142.3" cy="118.1" r="1.75"/><circle cx="144.2" cy="119.4" r="1.75"/><circle cx="145.8" cy="120.6" r="1.75"/><circle cx="146.9" cy="121.3" r="1.75"/><circle cx="147.7" cy="121.9" r="1.75"/><circle cx="149.4" cy="123.1" r="1.75"/><circle cx="150.2" cy="123.6" r="1.75"/><circle cx="151.2" cy="124.4" r="1.75"/><circle cx="152.7" cy="125.4" r="1.75"/><circle cx="154.7" cy="126.9" r="1.75"/><circle cx="156.4" cy="128.1" r="1.75"/><circle cx="157.4" cy="128.8" r="1.75"/><circle cx="159.4" cy="130.3" r="1.75"/><circle cx="160.5" cy="131.0" r="1.75"/><circle cx="161.1" cy="131.5" r="1.75"/><circle cx="162.1" cy="132.2" r="1.75"/><circle cx="163.4" cy="133.0" r="1.75"/><circle cx="164.2" cy="133.5" r="1.75"/><circle cx="165.1" cy="134.0" r="1.75"/><circle cx="166.4" cy="134.8" r="1.75"/><circle cx="167.9" cy="135.7" r="1.75"/><circle cx="168.8" cy="136.2" r="1.75"/><circle cx="170.1" cy="136.9" r="1.75"/><circle cx="172.3" cy="138.2" r="1.75"/><circle cx="174.7" cy="139.6" r="1.75"/><circle cx="176.4" cy="140.6" r="1.75"/><circle cx="178.2" cy="141.6" r="1.75"/><circle cx="179.8" cy="142.4" r="1.75"/><circle cx="183.8" cy="144.0" r="1.75"/><circle cx="186.1" cy="144.9" r="1.75"/><circle cx="186.8" cy="145.2" r="1.75"/><circle cx="188.6" cy="146.1" r="1.75"/><circle cx="190.2" cy="146.9" r="1.75"/><circle cx="192.3" cy="147.9" r="1.75"/><circle cx="193.4" cy="148.5" r="1.75"/><circle cx="197.8" cy="149.9" r="1.75"/><circle cx="200.2" cy="150.5" r="1.75"/><circle cx="202.2" cy="151.0" r="1.75"/><circle cx="204.2" cy="151.5" r="1.75"/><circle cx="206.4" cy="152.1" r="1.75"/><circle cx="208.8" cy="152.7" r="1.75"/><circle cx="210.3" cy="153.1" r="1.75"/><circle cx="212.2" cy="153.6" r="1.75"/><circle cx="216.2" cy="154.6" r="1.75"/><circle cx="218.5" cy="155.1" r="1.75"/><circle cx="220.2" cy="155.8" r="1.75"/><circle cx="222.2" cy="156.3" r="1.75"/><circle cx="223.6" cy="156.7" r="1.75"/><circle cx="225.3" cy="157.2" r="1.75"/><circle cx="227.3" cy="157.8" r="1.75"/><circle cx="228.2" cy="158.1" r="1.75"/><circle cx="230.2" cy="158.6" r="1.75"/></g>
<g fill="none" stroke="#17893c" stroke-width="1.2"><circle cx="237.8" cy="160.5" r="1.65"/><circle cx="239.0" cy="160.7" r="1.65"/><circle cx="240.0" cy="160.9" r="1.65"/><circle cx="242.0" cy="161.3" r="1.65"/><circle cx="243.8" cy="161.6" r="1.65"/><circle cx="246.8" cy="162.1" r="1.65"/><circle cx="249.5" cy="162.6" r="1.65"/><circle cx="254.8" cy="163.2" r="1.65"/><circle cx="257.0" cy="163.4" r="1.65"/><circle cx="258.5" cy="163.6" r="1.65"/><circle cx="265.0" cy="164.4" r="1.65"/><circle cx="267.8" cy="164.7" r="1.65"/><circle cx="273.0" cy="165.5" r="1.65"/><circle cx="274.2" cy="165.7" r="1.65"/><circle cx="277.8" cy="166.3" r="1.65"/><circle cx="280.0" cy="166.6" r="1.65"/><circle cx="283.5" cy="167.1" r="1.65"/><circle cx="284.8" cy="167.3" r="1.65"/><circle cx="286.8" cy="167.6" r="1.65"/><circle cx="288.0" cy="167.8" r="1.65"/><circle cx="289.8" cy="168.1" r="1.65"/><circle cx="292.2" cy="168.9" r="1.65"/><circle cx="293.6" cy="169.4" r="1.65"/><circle cx="297.7" cy="170.9" r="1.65"/><circle cx="299.5" cy="171.7" r="1.65"/><circle cx="301.4" cy="172.6" r="1.65"/><circle cx="303.6" cy="173.7" r="1.65"/><circle cx="305.8" cy="174.3" r="1.65"/><circle cx="307.8" cy="174.4" r="1.65"/><circle cx="308.8" cy="174.4" r="1.65"/><circle cx="315.2" cy="174.7" r="1.65"/><circle cx="317.2" cy="174.8" r="1.65"/><circle cx="319.2" cy="174.9" r="1.65"/><circle cx="322.0" cy="175.0" r="1.65"/><circle cx="324.8" cy="175.1" r="1.65"/><circle cx="326.0" cy="175.1" r="1.65"/><circle cx="329.8" cy="175.2" r="1.65"/><circle cx="332.0" cy="175.2" r="1.65"/><circle cx="333.0" cy="175.2" r="1.65"/><circle cx="336.2" cy="175.2" r="1.65"/><circle cx="338.5" cy="175.2" r="1.65"/><circle cx="341.0" cy="175.2" r="1.65"/><circle cx="342.5" cy="175.2" r="1.65"/><circle cx="347.8" cy="175.2" r="1.65"/></g>
<g fill="none" stroke="#17893c" stroke-width="1.2"><circle cx="351.2" cy="177.5" r="1.6"/><circle cx="355.0" cy="178.0" r="1.6"/><circle cx="358.8" cy="178.1" r="1.6"/><circle cx="366.2" cy="178.8" r="1.6"/><circle cx="373.8" cy="180.6" r="1.6"/><circle cx="381.5" cy="181.9" r="1.6"/><circle cx="384.5" cy="181.9" r="1.6"/><circle cx="387.5" cy="181.9" r="1.6"/><circle cx="390.5" cy="181.9" r="1.6"/><circle cx="393.5" cy="181.9" r="1.6"/><circle cx="396.5" cy="181.9" r="1.6"/><circle cx="399.5" cy="181.9" r="1.6"/><circle cx="402.5" cy="181.9" r="1.6"/><circle cx="407.5" cy="181.9" r="1.6"/><circle cx="410.5" cy="181.9" r="1.6"/><circle cx="413.5" cy="181.9" r="1.6"/><circle cx="416.5" cy="181.9" r="1.6"/><circle cx="420.8" cy="183.2" r="1.6"/><circle cx="431.0" cy="183.6" r="1.6"/><circle cx="434.2" cy="183.6" r="1.6"/><circle cx="437.4" cy="183.6" r="1.6"/><circle cx="440.6" cy="183.6" r="1.6"/><circle cx="443.8" cy="183.6" r="1.6"/><circle cx="448.5" cy="183.8" r="1.6"/><circle cx="455.6" cy="188.0" r="1.6"/><circle cx="461.0" cy="188.0" r="1.6"/><circle cx="463.5" cy="188.0" r="1.6"/><circle cx="466.0" cy="188.0" r="1.6"/><circle cx="475.0" cy="188.0" r="1.6"/><circle cx="494.9" cy="201.3" r="1.6"/></g>
<polyline points="41.0,6.0 49.0,13.0 56.6,20.0 60.0,25.0 64.5,30.0 68.0,35.0 72.5,41.0 78.5,47.3 82.5,50.8 89.2,57.3 96.0,62.0 100.5,65.8 105.0,70.0 109.2,74.8 113.8,78.5 119.0,82.2 126.8,90.5 131.2,96.0 136.5,100.5 142.5,104.2 147.5,106.5 151.2,108.6 157.2,112.5 162.5,118.5 168.5,122.2 175.2,125.2 178.0,126.5 181.8,131.5 184.8,132.5 190.8,132.5 194.5,134.0 198.2,136.2 203.5,137.0 208.0,138.3 216.2,139.0 219.0,140.5 224.5,144.8 232.0,146.8 239.5,149.0 250.0,150.5 252.0,152.2 268.5,152.6 270.0,153.9" fill="none" stroke="#3f4f9f" stroke-width="0.9"/>
<polyline points="270.0,153.9 274.4,154.2 290.0,154.2 295.0,156.2 297.5,158.3 307.5,158.5 317.5,160.0 327.5,160.0 332.5,162.6 361.2,162.8 361.2,165.6 390.0,166.0 391.2,169.8 462.5,170.0" fill="none" stroke="#3f4f9f" stroke-width="0.9" stroke-dasharray="6,1.5"/>
<g fill="none" stroke="#3f4f9f" stroke-width="1.2"><circle cx="41.0" cy="6.0" r="1.65"/><circle cx="41.8" cy="6.7" r="1.65"/><circle cx="42.3" cy="7.2" r="1.65"/><circle cx="43.3" cy="8.0" r="1.65"/><circle cx="43.7" cy="8.3" r="1.65"/><circle cx="44.6" cy="9.2" r="1.65"/><circle cx="45.4" cy="9.8" r="1.65"/><circle cx="45.8" cy="10.2" r="1.65"/><circle cx="46.5" cy="10.8" r="1.65"/><circle cx="46.9" cy="11.2" r="1.65"/><circle cx="47.7" cy="11.8" r="1.65"/><circle cx="48.0" cy="12.2" r="1.65"/><circle cx="48.6" cy="12.7" r="1.65"/><circle cx="49.4" cy="13.3" r="1.65"/><circle cx="50.5" cy="14.4" r="1.65"/><circle cx="51.0" cy="14.9" r="1.65"/><circle cx="51.6" cy="15.4" r="1.65"/><circle cx="52.5" cy="16.2" r="1.65"/><circle cx="53.8" cy="17.4" r="1.65"/><circle cx="54.7" cy="18.3" r="1.65"/><circle cx="55.5" cy="19.0" r="1.65"/><circle cx="56.7" cy="20.2" r="1.65"/><circle cx="57.0" cy="20.6" r="1.65"/><circle cx="57.9" cy="21.9" r="1.65"/><circle cx="58.3" cy="22.5" r="1.65"/><circle cx="58.7" cy="23.1" r="1.65"/><circle cx="59.1" cy="23.8" r="1.65"/><circle cx="59.7" cy="24.6" r="1.65"/><circle cx="60.7" cy="25.8" r="1.65"/><circle cx="61.2" cy="26.3" r="1.65"/><circle cx="62.1" cy="27.3" r="1.65"/><circle cx="62.9" cy="28.3" r="1.65"/><circle cx="63.6" cy="29.0" r="1.65"/><circle cx="64.5" cy="30.0" r="1.65"/><circle cx="64.8" cy="30.4" r="1.65"/><circle cx="65.1" cy="30.8" r="1.65"/><circle cx="65.5" cy="31.5" r="1.65"/><circle cx="66.2" cy="32.5" r="1.65"/><circle cx="66.8" cy="33.3" r="1.65"/><circle cx="67.4" cy="34.2" r="1.65"/><circle cx="68.2" cy="35.2" r="1.65"/><circle cx="68.8" cy="36.0" r="1.65"/><circle cx="69.3" cy="36.8" r="1.65"/><circle cx="70.2" cy="38.0" r="1.65"/><circle cx="71.0" cy="39.0" r="1.65"/><circle cx="71.5" cy="39.6" r="1.65"/><circle cx="72.2" cy="40.6" r="1.65"/><circle cx="73.0" cy="41.6" r="1.65"/><circle cx="74.1" cy="42.7" r="1.65"/><circle cx="75.0" cy="43.6" r="1.65"/><circle cx="75.5" cy="44.1" r="1.65"/><circle cx="76.7" cy="45.4" r="1.65"/><circle cx="77.3" cy="46.0" r="1.65"/><circle cx="78.0" cy="46.7" r="1.65"/><circle cx="79.1" cy="47.8" r="1.65"/><circle cx="79.6" cy="48.3" r="1.65"/><circle cx="80.4" cy="48.9" r="1.65"/><circle cx="80.8" cy="49.3" r="1.65"/><circle cx="81.7" cy="50.1" r="1.65"/><circle cx="82.9" cy="51.1" r="1.65"/><circle cx="83.8" cy="52.0" r="1.65"/><circle cx="84.9" cy="53.1" r="1.65"/><circle cx="85.6" cy="53.8" r="1.65"/><circle cx="90.1" cy="57.9" r="1.65"/><circle cx="92.4" cy="59.5" r="1.65"/><circle cx="93.9" cy="60.5" r="1.65"/><circle cx="95.6" cy="61.7" r="1.65"/><circle cx="96.4" cy="62.3" r="1.65"/><circle cx="103.1" cy="68.2" r="1.65"/><circle cx="104.6" cy="69.6" r="1.65"/><circle cx="105.2" cy="70.2" r="1.65"/><circle cx="106.4" cy="71.5" r="1.65"/><circle cx="110.2" cy="75.6" r="1.65"/><circle cx="111.4" cy="76.5" r="1.65"/><circle cx="113.4" cy="78.2" r="1.65"/><circle cx="119.7" cy="83.0" r="1.65"/><circle cx="120.5" cy="83.9" r="1.65"/><circle cx="121.8" cy="85.2" r="1.65"/><circle cx="122.8" cy="86.3" r="1.65"/><circle cx="124.5" cy="88.1" r="1.65"/><circle cx="128.0" cy="92.1" r="1.65"/><circle cx="129.2" cy="93.4" r="1.65"/><circle cx="130.4" cy="95.0" r="1.65"/><circle cx="131.2" cy="96.0" r="1.65"/><circle cx="136.7" cy="100.6" r="1.65"/><circle cx="138.2" cy="101.6" r="1.65"/><circle cx="139.9" cy="102.6" r="1.65"/><circle cx="141.9" cy="103.8" r="1.65"/><circle cx="149.5" cy="107.6" r="1.65"/><circle cx="150.8" cy="108.4" r="1.65"/><circle cx="151.7" cy="108.9" r="1.65"/><circle cx="153.4" cy="110.0" r="1.65"/><circle cx="154.2" cy="110.5" r="1.65"/><circle cx="157.9" cy="113.3" r="1.65"/><circle cx="158.6" cy="114.0" r="1.65"/><circle cx="159.3" cy="114.8" r="1.65"/><circle cx="163.6" cy="119.2" r="1.65"/><circle cx="164.6" cy="119.8" r="1.65"/><circle cx="165.9" cy="120.6" r="1.65"/><circle cx="172.0" cy="123.8" r="1.65"/><circle cx="173.6" cy="124.5" r="1.65"/><circle cx="174.6" cy="124.9" r="1.65"/><circle cx="175.5" cy="125.4" r="1.65"/><circle cx="179.9" cy="129.1" r="1.65"/><circle cx="181.2" cy="130.7" r="1.65"/><circle cx="181.8" cy="131.5" r="1.65"/><circle cx="183.5" cy="132.1" r="1.65"/><circle cx="184.2" cy="132.3" r="1.65"/><circle cx="186.0" cy="132.5" r="1.65"/><circle cx="196.7" cy="135.3" r="1.65"/><circle cx="198.8" cy="136.3" r="1.65"/><circle cx="200.2" cy="136.5" r="1.65"/><circle cx="201.5" cy="136.7" r="1.65"/><circle cx="213.8" cy="138.8" r="1.65"/><circle cx="215.5" cy="138.9" r="1.65"/><circle cx="216.9" cy="139.4" r="1.65"/><circle cx="221.6" cy="142.5" r="1.65"/><circle cx="223.1" cy="143.6" r="1.65"/><circle cx="225.5" cy="145.0" r="1.65"/><circle cx="228.1" cy="145.7" r="1.65"/><circle cx="235.6" cy="147.9" r="1.65"/><circle cx="238.0" cy="148.6" r="1.65"/><circle cx="240.5" cy="149.1" r="1.65"/><circle cx="250.4" cy="150.8" r="1.65"/><circle cx="252.2" cy="152.2" r="1.65"/><circle cx="254.0" cy="152.2" r="1.65"/><circle cx="255.2" cy="152.3" r="1.65"/><circle cx="264.5" cy="152.5" r="1.65"/><circle cx="267.2" cy="152.6" r="1.65"/></g>
<g fill="none" stroke="#3f4f9f" stroke-width="1.2"><circle cx="274.4" cy="154.2" r="1.6"/><circle cx="288.8" cy="154.0" r="1.6"/><circle cx="307.5" cy="158.5" r="1.6"/><circle cx="317.5" cy="160.0" r="1.6"/><circle cx="322.0" cy="160.0" r="1.6"/><circle cx="327.5" cy="160.0" r="1.6"/><circle cx="346.2" cy="162.8" r="1.6"/><circle cx="354.4" cy="162.8" r="1.6"/><circle cx="361.2" cy="165.6" r="1.6"/><circle cx="371.2" cy="165.6" r="1.6"/><circle cx="378.8" cy="165.6" r="1.6"/><circle cx="382.5" cy="165.6" r="1.6"/><circle cx="385.0" cy="165.6" r="1.6"/><circle cx="388.0" cy="165.6" r="1.6"/><circle cx="400.0" cy="169.8" r="1.6"/><circle cx="403.0" cy="169.8" r="1.6"/><circle cx="407.0" cy="169.8" r="1.6"/><circle cx="409.0" cy="169.8" r="1.6"/><circle cx="418.0" cy="169.8" r="1.6"/><circle cx="420.0" cy="169.8" r="1.6"/><circle cx="425.0" cy="169.8" r="1.6"/><circle cx="428.0" cy="169.8" r="1.6"/><circle cx="452.5" cy="170.0" r="1.6"/><circle cx="458.8" cy="170.0" r="1.6"/><circle cx="461.0" cy="170.0" r="1.6"/></g>
<polyline points="345.0,133.8 351.2,134.4 356.2,135.0 361.2,135.8 391.2,135.8 391.2,140.5 432.5,140.6 432.5,144.4 445.0,144.4 445.0,148.8 456.2,148.8 456.5,155.0 478.2,155.0 478.2,164.4 483.8,164.4 483.8,177.6 511.6,177.6" fill="none" stroke="#7b1f84" stroke-width="0.9" stroke-dasharray="6,1.5,2,1.5"/>
<polyline points="207.5,92.5 216.2,94.6 220.0,95.8 230.0,98.6 240.0,102.5 248.8,105.6 256.2,108.6 263.8,110.6 273.8,113.6 282.5,115.8 287.5,116.2 296.2,119.4 303.8,122.5 312.5,123.8 317.5,124.4 325.0,126.2 331.2,129.4 333.8,133.1 345.0,133.8" fill="none" stroke="#7b1f84" stroke-width="0.9"/>
<g fill="none" stroke="#7b1f84" stroke-width="1.35"><circle cx="41.0" cy="6.0" r="1.75"/><circle cx="42.0" cy="6.8" r="1.75"/><circle cx="43.0" cy="7.6" r="1.75"/><circle cx="43.9" cy="8.4" r="1.75"/><circle cx="45.1" cy="9.4" r="1.75"/><circle cx="46.1" cy="10.2" r="1.75"/><circle cx="47.3" cy="11.2" r="1.75"/><circle cx="47.7" cy="11.5" r="1.75"/><circle cx="48.4" cy="12.2" r="1.75"/><circle cx="49.6" cy="13.2" r="1.75"/><circle cx="50.6" cy="13.9" r="1.75"/><circle cx="51.9" cy="14.8" r="1.75"/><circle cx="52.3" cy="15.1" r="1.75"/><circle cx="53.1" cy="15.7" r="1.75"/><circle cx="53.8" cy="16.1" r="1.75"/><circle cx="54.6" cy="16.7" r="1.75"/><circle cx="55.4" cy="17.3" r="1.75"/><circle cx="55.8" cy="17.6" r="1.75"/><circle cx="56.5" cy="18.0" r="1.75"/><circle cx="57.1" cy="18.5" r="1.75"/><circle cx="58.3" cy="19.3" r="1.75"/><circle cx="59.4" cy="20.1" r="1.75"/><circle cx="60.0" cy="20.5" r="1.75"/><circle cx="61.1" cy="21.2" r="1.75"/><circle cx="61.7" cy="21.6" r="1.75"/><circle cx="62.8" cy="22.3" r="1.75"/><circle cx="63.2" cy="22.5" r="1.75"/><circle cx="63.6" cy="22.8" r="1.75"/><circle cx="64.9" cy="23.6" r="1.75"/><circle cx="65.5" cy="24.0" r="1.75"/><circle cx="66.2" cy="24.5" r="1.75"/><circle cx="67.4" cy="25.3" r="1.75"/><circle cx="68.8" cy="26.1" r="1.75"/><circle cx="69.4" cy="26.5" r="1.75"/><circle cx="70.7" cy="27.2" r="1.75"/><circle cx="71.6" cy="27.8" r="1.75"/><circle cx="72.7" cy="28.4" r="1.75"/><circle cx="73.4" cy="28.8" r="1.75"/><circle cx="74.7" cy="29.5" r="1.75"/><circle cx="75.8" cy="30.1" r="1.75"/><circle cx="77.2" cy="30.9" r="1.75"/><circle cx="78.5" cy="31.6" r="1.75"/><circle cx="79.2" cy="32.0" r="1.75"/><circle cx="79.8" cy="32.4" r="1.75"/><circle cx="80.5" cy="32.8" r="1.75"/><circle cx="81.2" cy="33.2" r="1.75"/><circle cx="81.6" cy="33.4" r="1.75"/><circle cx="82.3" cy="33.8" r="1.75"/><circle cx="83.1" cy="34.3" r="1.75"/><circle cx="83.6" cy="34.6" r="1.75"/><circle cx="84.7" cy="35.3" r="1.75"/><circle cx="85.3" cy="35.8" r="1.75"/><circle cx="85.9" cy="36.2" r="1.75"/><circle cx="86.9" cy="37.0" r="1.75"/><circle cx="87.7" cy="37.5" r="1.75"/><circle cx="88.3" cy="38.0" r="1.75"/><circle cx="89.1" cy="38.6" r="1.75"/><circle cx="90.1" cy="39.4" r="1.75"/><circle cx="90.5" cy="39.6" r="1.75"/><circle cx="91.8" cy="40.5" r="1.75"/><circle cx="92.2" cy="40.8" r="1.75"/><circle cx="93.3" cy="41.5" r="1.75"/><circle cx="94.4" cy="42.2" r="1.75"/><circle cx="94.8" cy="42.5" r="1.75"/><circle cx="95.8" cy="43.2" r="1.75"/><circle cx="96.5" cy="43.6" r="1.75"/><circle cx="97.3" cy="44.2" r="1.75"/><circle cx="97.7" cy="44.5" r="1.75"/><circle cx="98.2" cy="44.8" r="1.75"/><circle cx="98.8" cy="45.2" r="1.75"/><circle cx="100.0" cy="46.1" r="1.75"/><circle cx="100.7" cy="46.5" r="1.75"/><circle cx="101.8" cy="47.2" r="1.75"/><circle cx="103.1" cy="48.0" r="1.75"/><circle cx="104.4" cy="48.8" r="1.75"/><circle cx="105.1" cy="49.2" r="1.75"/><circle cx="105.7" cy="49.6" r="1.75"/><circle cx="106.6" cy="50.2" r="1.75"/><circle cx="107.6" cy="51.0" r="1.75"/><circle cx="108.0" cy="51.2" r="1.75"/><circle cx="109.0" cy="52.0" r="1.75"/><circle cx="110.1" cy="52.7" r="1.75"/><circle cx="111.4" cy="53.4" r="1.75"/><circle cx="111.9" cy="53.7" r="1.75"/><circle cx="113.2" cy="54.3" r="1.75"/><circle cx="113.7" cy="54.5" r="1.75"/><circle cx="114.4" cy="54.9" r="1.75"/><circle cx="115.5" cy="55.4" r="1.75"/><circle cx="116.9" cy="56.1" r="1.75"/><circle cx="117.7" cy="56.4" r="1.75"/><circle cx="119.1" cy="57.1" r="1.75"/><circle cx="120.0" cy="57.5" r="1.75"/><circle cx="120.7" cy="57.7" r="1.75"/><circle cx="121.5" cy="58.0" r="1.75"/><circle cx="122.2" cy="58.2" r="1.75"/><circle cx="122.7" cy="58.4" r="1.75"/><circle cx="123.4" cy="58.6" r="1.75"/><circle cx="124.7" cy="59.1" r="1.75"/><circle cx="126.1" cy="59.6" r="1.75"/><circle cx="126.8" cy="59.8" r="1.75"/><circle cx="127.3" cy="60.0" r="1.75"/><circle cx="128.8" cy="60.5" r="1.75"/><circle cx="129.7" cy="60.9" r="1.75"/><circle cx="130.7" cy="61.2" r="1.75"/><circle cx="131.4" cy="61.5" r="1.75"/><circle cx="132.4" cy="61.8" r="1.75"/><circle cx="133.6" cy="62.3" r="1.75"/><circle cx="134.5" cy="62.6" r="1.75"/><circle cx="135.4" cy="63.1" r="1.75"/><circle cx="135.9" cy="63.3" r="1.75"/><circle cx="137.2" cy="64.1" r="1.75"/><circle cx="137.6" cy="64.4" r="1.75"/><circle cx="138.5" cy="64.9" r="1.75"/><circle cx="139.6" cy="65.6" r="1.75"/><circle cx="140.0" cy="65.8" r="1.75"/><circle cx="141.1" cy="66.5" r="1.75"/><circle cx="142.4" cy="67.3" r="1.75"/><circle cx="143.5" cy="68.0" r="1.75"/><circle cx="144.7" cy="68.5" r="1.75"/><circle cx="145.1" cy="68.7" r="1.75"/><circle cx="146.1" cy="69.1" r="1.75"/><circle cx="146.8" cy="69.4" r="1.75"/><circle cx="148.2" cy="70.0" r="1.75"/><circle cx="148.9" cy="70.4" r="1.75"/><circle cx="149.8" cy="70.8" r="1.75"/><circle cx="151.2" cy="71.4" r="1.75"/><circle cx="152.8" cy="72.1" r="1.75"/><circle cx="154.7" cy="72.8" r="1.75"/><circle cx="155.9" cy="73.3" r="1.75"/><circle cx="157.1" cy="73.7" r="1.75"/><circle cx="158.7" cy="74.3" r="1.75"/><circle cx="159.9" cy="74.7" r="1.75"/><circle cx="160.8" cy="75.0" r="1.75"/><circle cx="162.0" cy="75.4" r="1.75"/><circle cx="162.7" cy="75.7" r="1.75"/><circle cx="164.0" cy="76.1" r="1.75"/><circle cx="165.9" cy="76.7" r="1.75"/><circle cx="167.8" cy="77.4" r="1.75"/><circle cx="169.3" cy="77.9" r="1.75"/><circle cx="170.4" cy="78.3" r="1.75"/><circle cx="171.3" cy="78.8" r="1.75"/><circle cx="172.0" cy="79.1" r="1.75"/><circle cx="172.9" cy="79.6" r="1.75"/><circle cx="174.5" cy="80.4" r="1.75"/><circle cx="176.1" cy="81.1" r="1.75"/><circle cx="177.0" cy="81.6" r="1.75"/><circle cx="178.5" cy="82.4" r="1.75"/><circle cx="180.2" cy="82.8" r="1.75"/><circle cx="181.8" cy="83.2" r="1.75"/><circle cx="183.2" cy="83.5" r="1.75"/><circle cx="185.0" cy="83.9" r="1.75"/><circle cx="186.0" cy="84.1" r="1.75"/><circle cx="187.5" cy="84.4" r="1.75"/><circle cx="188.5" cy="84.8" r="1.75"/><circle cx="189.6" cy="85.2" r="1.75"/><circle cx="191.3" cy="85.8" r="1.75"/><circle cx="192.7" cy="86.3" r="1.75"/><circle cx="193.7" cy="86.7" r="1.75"/><circle cx="195.6" cy="87.4" r="1.75"/><circle cx="197.0" cy="87.9" r="1.75"/><circle cx="198.4" cy="88.5" r="1.75"/><circle cx="198.9" cy="88.7" r="1.75"/><circle cx="200.1" cy="89.2" r="1.75"/><circle cx="201.0" cy="89.6" r="1.75"/><circle cx="202.4" cy="90.2" r="1.75"/><circle cx="203.5" cy="90.8" r="1.75"/><circle cx="205.2" cy="91.5" r="1.75"/><circle cx="206.6" cy="92.1" r="1.75"/></g>
<g fill="none" stroke="#7b1f84" stroke-width="1.25"><circle cx="211.5" cy="93.5" r="1.65"/><circle cx="212.2" cy="93.6" r="1.65"/><circle cx="214.2" cy="94.1" r="1.65"/><circle cx="216.0" cy="94.5" r="1.65"/><circle cx="220.5" cy="95.9" r="1.65"/><circle cx="222.7" cy="96.6" r="1.65"/><circle cx="224.9" cy="97.2" r="1.65"/><circle cx="226.3" cy="97.6" r="1.65"/><circle cx="230.7" cy="98.9" r="1.65"/><circle cx="231.9" cy="99.3" r="1.65"/><circle cx="234.0" cy="100.2" r="1.65"/><circle cx="236.0" cy="100.9" r="1.65"/><circle cx="238.1" cy="101.8" r="1.65"/><circle cx="239.5" cy="102.3" r="1.65"/><circle cx="240.5" cy="102.7" r="1.65"/><circle cx="245.0" cy="104.3" r="1.65"/><circle cx="246.9" cy="104.9" r="1.65"/><circle cx="248.0" cy="105.3" r="1.65"/><circle cx="250.4" cy="106.3" r="1.65"/><circle cx="254.1" cy="107.8" r="1.65"/><circle cx="256.5" cy="108.7" r="1.65"/><circle cx="258.9" cy="109.3" r="1.65"/><circle cx="260.6" cy="109.8" r="1.65"/><circle cx="264.7" cy="110.9" r="1.65"/><circle cx="265.5" cy="111.1" r="1.65"/><circle cx="266.9" cy="111.6" r="1.65"/><circle cx="268.9" cy="112.1" r="1.65"/><circle cx="270.1" cy="112.5" r="1.65"/><circle cx="271.8" cy="113.0" r="1.65"/><circle cx="272.8" cy="113.3" r="1.65"/><circle cx="275.2" cy="114.0" r="1.65"/><circle cx="276.9" cy="114.4" r="1.65"/><circle cx="280.3" cy="115.2" r="1.65"/><circle cx="281.3" cy="115.5" r="1.65"/><circle cx="282.5" cy="115.8" r="1.65"/><circle cx="285.5" cy="116.1" r="1.65"/><circle cx="288.0" cy="116.4" r="1.65"/><circle cx="288.9" cy="116.8" r="1.65"/><circle cx="291.5" cy="117.7" r="1.65"/><circle cx="294.4" cy="118.7" r="1.65"/><circle cx="296.7" cy="119.6" r="1.65"/><circle cx="298.4" cy="120.3" r="1.65"/><circle cx="304.2" cy="122.6" r="1.65"/><circle cx="306.2" cy="122.9" r="1.65"/><circle cx="312.2" cy="123.7" r="1.65"/><circle cx="315.5" cy="124.1" r="1.65"/><circle cx="321.5" cy="125.4" r="1.65"/><circle cx="324.2" cy="126.1" r="1.65"/><circle cx="326.9" cy="127.2" r="1.65"/><circle cx="328.7" cy="128.1" r="1.65"/><circle cx="331.8" cy="130.3" r="1.65"/><circle cx="333.3" cy="132.4" r="1.65"/><circle cx="334.5" cy="133.1" r="1.65"/><circle cx="340.0" cy="133.5" r="1.65"/><circle cx="341.8" cy="133.6" r="1.65"/><circle cx="343.2" cy="133.6" r="1.65"/></g>
<g fill="none" stroke="#7b1f84" stroke-width="1.2"><circle cx="351.2" cy="134.4" r="1.6"/><circle cx="356.2" cy="135.0" r="1.6"/><circle cx="362.0" cy="135.8" r="1.6"/><circle cx="363.3" cy="135.8" r="1.6"/><circle cx="364.6" cy="135.8" r="1.6"/><circle cx="365.9" cy="135.8" r="1.6"/><circle cx="367.2" cy="135.8" r="1.6"/><circle cx="368.5" cy="135.8" r="1.6"/><circle cx="369.8" cy="135.8" r="1.6"/><circle cx="371.1" cy="135.8" r="1.6"/><circle cx="372.4" cy="135.8" r="1.6"/><circle cx="373.7" cy="135.8" r="1.6"/><circle cx="375.0" cy="135.8" r="1.6"/><circle cx="376.3" cy="135.8" r="1.6"/><circle cx="377.6" cy="135.8" r="1.6"/><circle cx="378.9" cy="135.8" r="1.6"/><circle cx="380.2" cy="135.8" r="1.6"/><circle cx="381.5" cy="135.8" r="1.6"/><circle cx="382.8" cy="135.8" r="1.6"/><circle cx="384.1" cy="135.8" r="1.6"/><circle cx="385.4" cy="135.8" r="1.6"/><circle cx="386.7" cy="135.8" r="1.6"/><circle cx="388.0" cy="135.8" r="1.6"/><circle cx="389.3" cy="135.8" r="1.6"/><circle cx="393.8" cy="140.6" r="1.6"/><circle cx="396.0" cy="140.6" r="1.6"/><circle cx="397.5" cy="140.6" r="1.6"/><circle cx="403.8" cy="140.6" r="1.6"/><circle cx="410.0" cy="140.6" r="1.6"/><circle cx="413.0" cy="140.6" r="1.6"/><circle cx="416.0" cy="140.6" r="1.6"/><circle cx="419.0" cy="140.6" r="1.6"/><circle cx="426.9" cy="140.6" r="1.6"/><circle cx="436.2" cy="144.4" r="1.6"/><circle cx="446.2" cy="148.8" r="1.6"/><circle cx="449.0" cy="148.8" r="1.6"/><circle cx="452.0" cy="148.8" r="1.6"/><circle cx="455.0" cy="148.8" r="1.6"/><circle cx="469.9" cy="155.0" r="1.6"/><circle cx="476.4" cy="155.0" r="1.6"/><circle cx="481.0" cy="164.4" r="1.6"/><circle cx="507.5" cy="177.6" r="1.6"/><circle cx="509.5" cy="177.6" r="1.6"/><circle cx="511.5" cy="177.6" r="1.6"/></g>
<polyline points="41.0,6.0 50.0,12.4 60.0,19.3 66.0,22.0 75.5,25.4 81.8,28.8 87.0,30.0 94.2,31.2 103.0,33.0 107.5,33.3 116.2,34.6 121.2,37.0 127.5,37.5 130.0,37.6 138.1,38.9 142.2,41.0 147.6,45.7 154.3,48.4 161.1,49.0 165.1,51.1 171.9,53.1 177.3,55.1 182.5,56.2 186.2,58.0 210.0,58.0 213.8,60.0 220.0,65.0 221.2,66.2 233.8,67.0 238.8,69.5 246.2,69.5 251.2,72.0 253.8,75.0 262.5,77.5 266.2,80.0 281.2,80.6 281.2,83.3 369.4,83.3 369.4,90.0 373.8,90.0 373.8,96.9 376.2,96.9 376.2,103.8 377.5,103.8 377.5,111.0 428.8,111.0 428.8,126.2 444.4,126.2 444.4,143.8 488.4,143.8 488.4,178.0 497.7,178.0" fill="none" stroke="#262626" stroke-width="0.9"/>
<g fill="none" stroke="#262626" stroke-width="1.25"><circle cx="41.0" cy="6.0" r="1.7"/><circle cx="41.6" cy="6.4" r="1.7"/><circle cx="42.6" cy="7.2" r="1.7"/><circle cx="43.5" cy="7.7" r="1.7"/><circle cx="44.5" cy="8.5" r="1.7"/><circle cx="45.5" cy="9.2" r="1.7"/><circle cx="45.9" cy="9.5" r="1.7"/><circle cx="46.3" cy="9.8" r="1.7"/><circle cx="47.5" cy="10.7" r="1.7"/><circle cx="48.2" cy="11.1" r="1.7"/><circle cx="48.8" cy="11.5" r="1.7"/><circle cx="50.2" cy="12.5" r="1.7"/><circle cx="51.0" cy="13.1" r="1.7"/><circle cx="52.3" cy="14.0" r="1.7"/><circle cx="53.1" cy="14.6" r="1.7"/><circle cx="54.2" cy="15.3" r="1.7"/><circle cx="54.8" cy="15.7" r="1.7"/><circle cx="55.8" cy="16.4" r="1.7"/><circle cx="57.1" cy="17.3" r="1.7"/><circle cx="58.1" cy="18.0" r="1.7"/><circle cx="59.4" cy="18.9" r="1.7"/><circle cx="60.5" cy="19.5" r="1.7"/><circle cx="60.9" cy="19.7" r="1.7"/><circle cx="62.3" cy="20.3" r="1.7"/><circle cx="63.5" cy="20.9" r="1.7"/><circle cx="64.4" cy="21.3" r="1.7"/><circle cx="64.8" cy="21.5" r="1.7"/><circle cx="66.2" cy="22.1" r="1.7"/><circle cx="67.2" cy="22.4" r="1.7"/><circle cx="68.6" cy="22.9" r="1.7"/><circle cx="70.0" cy="23.4" r="1.7"/><circle cx="71.2" cy="23.9" r="1.7"/><circle cx="72.7" cy="24.4" r="1.7"/><circle cx="73.6" cy="24.7" r="1.7"/><circle cx="75.0" cy="25.2" r="1.7"/><circle cx="75.9" cy="25.6" r="1.7"/><circle cx="77.3" cy="26.4" r="1.7"/><circle cx="78.6" cy="27.1" r="1.7"/><circle cx="79.3" cy="27.5" r="1.7"/><circle cx="80.0" cy="27.8" r="1.7"/><circle cx="80.6" cy="28.2" r="1.7"/><circle cx="82.2" cy="28.9" r="1.7"/><circle cx="83.2" cy="29.1" r="1.7"/><circle cx="84.5" cy="29.4" r="1.7"/><circle cx="85.2" cy="29.6" r="1.7"/><circle cx="86.2" cy="29.8" r="1.7"/><circle cx="87.2" cy="30.0" r="1.7"/><circle cx="88.2" cy="30.2" r="1.7"/><circle cx="89.5" cy="30.4" r="1.7"/><circle cx="90.8" cy="30.6" r="1.7"/><circle cx="92.2" cy="30.9" r="1.7"/><circle cx="93.5" cy="31.1" r="1.7"/><circle cx="95.0" cy="31.4" r="1.7"/><circle cx="100.2" cy="32.5" r="1.7"/><circle cx="102.8" cy="33.0" r="1.7"/><circle cx="105.2" cy="33.1" r="1.7"/><circle cx="107.0" cy="33.3" r="1.7"/><circle cx="109.0" cy="33.5" r="1.7"/><circle cx="110.2" cy="33.7" r="1.7"/><circle cx="112.5" cy="34.0" r="1.7"/><circle cx="117.6" cy="35.3" r="1.7"/><circle cx="118.5" cy="35.7" r="1.7"/><circle cx="120.6" cy="36.7" r="1.7"/><circle cx="122.0" cy="37.1" r="1.7"/><circle cx="123.0" cy="37.1" r="1.7"/><circle cx="124.2" cy="37.2" r="1.7"/><circle cx="126.5" cy="37.4" r="1.7"/><circle cx="129.0" cy="37.6" r="1.7"/><circle cx="133.8" cy="38.2" r="1.7"/><circle cx="136.3" cy="38.6" r="1.7"/><circle cx="138.1" cy="38.9" r="1.7"/><circle cx="140.4" cy="40.1" r="1.7"/><circle cx="141.5" cy="40.6" r="1.7"/><circle cx="142.4" cy="41.2" r="1.7"/><circle cx="143.9" cy="42.5" r="1.7"/><circle cx="144.5" cy="43.0" r="1.7"/><circle cx="147.6" cy="45.7" r="1.7"/><circle cx="149.8" cy="46.6" r="1.7"/><circle cx="150.9" cy="47.0" r="1.7"/><circle cx="158.3" cy="48.8" r="1.7"/><circle cx="160.3" cy="48.9" r="1.7"/></g>
<g fill="none" stroke="#262626" stroke-width="1.2"><circle cx="163.8" cy="50.0" r="1.6"/><circle cx="167.5" cy="51.5" r="1.6"/><circle cx="171.2" cy="52.5" r="1.6"/><circle cx="175.0" cy="53.8" r="1.6"/><circle cx="178.8" cy="55.0" r="1.6"/><circle cx="182.5" cy="56.2" r="1.6"/><circle cx="190.0" cy="58.0" r="1.6"/><circle cx="192.5" cy="58.0" r="1.6"/><circle cx="195.0" cy="58.0" r="1.6"/><circle cx="197.5" cy="58.0" r="1.6"/><circle cx="201.2" cy="57.8" r="1.6"/><circle cx="204.0" cy="57.8" r="1.6"/><circle cx="207.0" cy="57.8" r="1.6"/><circle cx="210.0" cy="58.0" r="1.6"/><circle cx="212.5" cy="58.5" r="1.6"/><circle cx="215.0" cy="60.5" r="1.6"/><circle cx="220.0" cy="65.0" r="1.6"/><circle cx="221.2" cy="66.2" r="1.6"/><circle cx="233.8" cy="67.0" r="1.6"/><circle cx="238.8" cy="69.5" r="1.6"/><circle cx="251.2" cy="72.0" r="1.6"/><circle cx="253.8" cy="75.0" r="1.6"/><circle cx="262.5" cy="77.5" r="1.6"/><circle cx="266.2" cy="80.0" r="1.6"/><circle cx="269.0" cy="80.0" r="1.6"/><circle cx="271.2" cy="80.0" r="1.6"/><circle cx="288.3" cy="83.4" r="1.6"/><circle cx="291.2" cy="83.4" r="1.6"/><circle cx="296.4" cy="83.4" r="1.6"/><circle cx="299.9" cy="83.4" r="1.6"/><circle cx="312.5" cy="83.3" r="1.6"/><circle cx="327.5" cy="83.3" r="1.6"/><circle cx="330.5" cy="83.3" r="1.6"/><circle cx="333.5" cy="83.3" r="1.6"/><circle cx="340.6" cy="83.3" r="1.6"/><circle cx="351.2" cy="83.3" r="1.6"/><circle cx="354.0" cy="83.3" r="1.6"/><circle cx="356.5" cy="83.3" r="1.6"/><circle cx="358.8" cy="83.3" r="1.6"/><circle cx="368.1" cy="83.3" r="1.6"/><circle cx="371.9" cy="90.0" r="1.6"/><circle cx="376.9" cy="103.8" r="1.6"/><circle cx="388.8" cy="111.0" r="1.6"/><circle cx="390.6" cy="111.0" r="1.6"/><circle cx="395.6" cy="111.0" r="1.6"/><circle cx="410.6" cy="111.0" r="1.6"/><circle cx="417.5" cy="111.0" r="1.6"/><circle cx="427.5" cy="111.0" r="1.6"/><circle cx="441.9" cy="126.2" r="1.6"/><circle cx="453.1" cy="143.8" r="1.6"/><circle cx="490.1" cy="178.5" r="1.6"/></g>
<circle cx="453.3" cy="143.7" r="1.9" fill="#1a1a1a"/>
<text x="45.4" y="258.2" class="st">STRATA:</text>
<line x1="88.6" y1="254.2" x2="111.7" y2="254.2" stroke="#f0eba8" stroke-width="0.9"/>
<text transform="translate(115.7,257.10) scale(0.918,1)" class="lg">Stagecat=Distant no_cor=With comorbidities</text>
<circle cx="301.3" cy="254.2" r="1.6" fill="#f3f0a8" stroke="#ece86a" stroke-width="1.3"/>
<circle cx="309.95" cy="254.2" r="1.6" fill="#f3f0a8" stroke="#ece86a" stroke-width="1.3"/>
<circle cx="318.3" cy="254.2" r="1.6" fill="#f3f0a8" stroke="#ece86a" stroke-width="1.3"/>
<text transform="translate(325.6,257.10) scale(0.915,1)" class="lg">Censored stagecat=Distant no_cor=With comorbidities</text>
<line x1="88.6" y1="261.4" x2="111.7" y2="261.4" stroke="#d46a78" stroke-width="0.9"/>
<text transform="translate(115.7,264.30) scale(0.918,1)" class="lg">Stagecat=Distant no_cor=Without comorbidities</text>
<circle cx="301.3" cy="261.4" r="1.6" fill="none" stroke="#c03848" stroke-width="1.3"/>
<circle cx="309.95" cy="261.4" r="1.6" fill="none" stroke="#c03848" stroke-width="1.3"/>
<circle cx="318.3" cy="261.4" r="1.6" fill="none" stroke="#c03848" stroke-width="1.3"/>
<text transform="translate(325.6,264.30) scale(0.915,1)" class="lg">Censored stagecat=Distant no_cor=Without comorbidities</text>
<line x1="88.6" y1="268.7" x2="111.7" y2="268.7" stroke="#92c2a2" stroke-width="0.9" stroke-dasharray="3,1.5"/>
<text transform="translate(115.7,271.60) scale(0.918,1)" class="lg">Stagecat=Regional no_cor=With comorbidities</text>
<circle cx="301.3" cy="268.7" r="1.6" fill="none" stroke="#2f7d4a" stroke-width="1.3"/>
<circle cx="309.95" cy="268.7" r="1.6" fill="none" stroke="#2f7d4a" stroke-width="1.3"/>
<circle cx="318.3" cy="268.7" r="1.6" fill="none" stroke="#2f7d4a" stroke-width="1.3"/>
<text transform="translate(325.6,271.60) scale(0.915,1)" class="lg">Censored stagecat=Regional no_cor=With comorbidities</text>
<line x1="88.6" y1="276.0" x2="111.7" y2="276.0" stroke="#8a96bc" stroke-width="0.9" stroke-dasharray="9,1.5"/>
<text transform="translate(115.7,278.90) scale(0.918,1)" class="lg">Stagecat=Regional no_cor=Without comorbidities</text>
<circle cx="301.3" cy="276.0" r="1.6" fill="none" stroke="#545c96" stroke-width="1.3"/>
<circle cx="309.95" cy="276.0" r="1.6" fill="none" stroke="#545c96" stroke-width="1.3"/>
<circle cx="318.3" cy="276.0" r="1.6" fill="none" stroke="#545c96" stroke-width="1.3"/>
<text transform="translate(325.6,278.90) scale(0.915,1)" class="lg">Censored stagecat=Regional no_cor=Without comorbidities</text>
<line x1="88.6" y1="283.2" x2="111.7" y2="283.2" stroke="#6e3a66" stroke-width="0.9" stroke-dasharray="16.5,2.2,3.7,10"/>
<text transform="translate(115.7,286.10) scale(0.918,1)" class="lg">Stagecat=localized no_cor=With comorbidities</text>
<circle cx="301.3" cy="283.2" r="1.6" fill="none" stroke="#7a5592" stroke-width="1.3"/>
<circle cx="309.95" cy="283.2" r="1.6" fill="none" stroke="#7a5592" stroke-width="1.3"/>
<circle cx="318.3" cy="283.2" r="1.6" fill="none" stroke="#7a5592" stroke-width="1.3"/>
<text transform="translate(325.6,286.10) scale(0.915,1)" class="lg">Censored stagecat=localized no_cor=With comorbidities</text>
<line x1="88.6" y1="290.5" x2="111.7" y2="290.5" stroke="#3a3a3a" stroke-width="0.9"/>
<text transform="translate(115.7,293.40) scale(0.918,1)" class="lg">Stagecat=localized no_cor=Without comorbidities</text>
<circle cx="301.3" cy="290.5" r="1.6" fill="none" stroke="#2a2a2a" stroke-width="1.3"/>
<circle cx="309.95" cy="290.5" r="1.6" fill="none" stroke="#2a2a2a" stroke-width="1.3"/>
<circle cx="318.3" cy="290.5" r="1.6" fill="none" stroke="#2a2a2a" stroke-width="1.3"/>
<text transform="translate(325.6,293.40) scale(0.915,1)" class="lg">Censored stagecat=localized no_cor=Without comorbidities</text>
</svg>
</body></html>
